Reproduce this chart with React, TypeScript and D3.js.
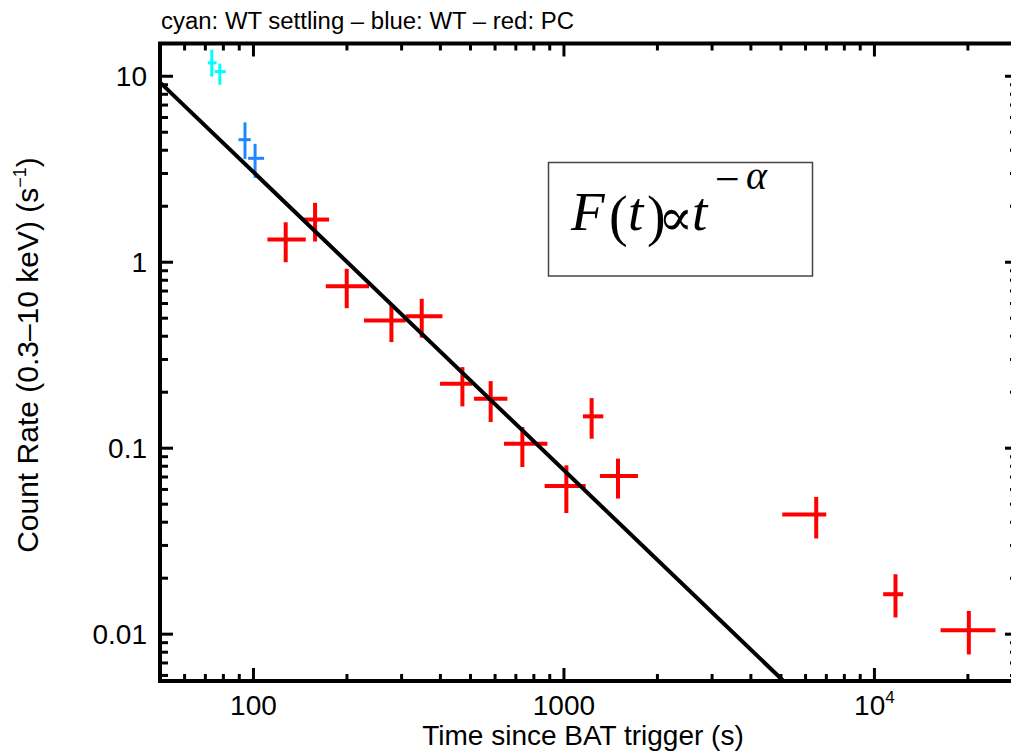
import React from 'react';
import * as d3 from 'd3';

const W = 1011;
const H = 753;

// Axis domains
const xDomain = [50, 29000];
const yDomain = [0.0056, 15];

// Major tick labels
const xMajorTicks = [100, 1000, 10000];
const xMajorLabels = ['100', '1000', '10^4'];
const yMajorTicks = [10, 1, 0.1, 0.01];
const yMajorLabels = ['10', '1', '0.1', '0.01'];

// cyan: WT settling
const cyanTime = [73.4, 77.9];
const cyanTimeLo = [71.3, 75.0];
const cyanTimeHi = [76.1, 81.4];
const cyanRate = [11.8, 10.6];
const cyanRateLo = [9.95, 9.0];
const cyanRateHi = [13.9, 11.7];

// blue: WT
const blueTime = [93.9, 101.2];
const blueTimeLo = [89.5, 96.1];
const blueTimeHi = [98.0, 108.2];
const blueRate = [4.56, 3.62];
const blueRateLo = [3.59, 2.84];
const blueRateHi = [5.65, 4.33];

// red: PC
const redTime = [127.0, 157.9, 199.7, 278.2, 348.3, 470.9, 580.8, 734.6, 1018, 1228, 1493, 6494, 11690, 20140];
const redTimeLo = [110.9, 143.8, 171.0, 227.0, 309.3, 399.0, 513.2, 641.0, 866.8, 1151, 1306, 5049, 10670, 16330];
const redTimeHi = [147.4, 175.2, 235.6, 309.3, 406.1, 507.2, 657.5, 884.5, 1175, 1339, 1731, 6995, 12380, 24540];
const redRate = [1.324, 1.696, 0.743, 0.486, 0.513, 0.2222, 0.1846, 0.1058, 0.0626, 0.1483, 0.0709, 0.044, 0.0164, 0.01051];
const redRateLo = [1.0, 1.292, 0.566, 0.372, 0.393, 0.1678, 0.1382, 0.0792, 0.0448, 0.1125, 0.0536, 0.0327, 0.0123, 0.00778];
const redRateHi = [1.64, 2.085, 0.922, 0.585, 0.636, 0.2729, 0.2295, 0.1299, 0.0809, 0.1859, 0.0879, 0.0547, 0.021, 0.01334];

// power-law fit line (two end points)
const fitTime = [50, 5094];
const fitRate = [9.27, 0.0056];

const PL = 160, PT = 43.5, PR = 1018, PB = 681;

const x = d3.scaleLog().domain(xDomain).range([PL, PR]);
const y = d3.scaleLog().domain(yDomain).range([PB, PT]);

const isMajor = (v: number) => Math.abs(Math.log10(v) - Math.round(Math.log10(v))) < 1e-9;

type Series = { t: number[]; tl: number[]; th: number[]; r: number[]; rl: number[]; rh: number[]; color: string; sw: number };

const series: Series[] = [
  { t: cyanTime, tl: cyanTimeLo, th: cyanTimeHi, r: cyanRate, rl: cyanRateLo, rh: cyanRateHi, color: '#00ffff', sw: 3 },
  { t: blueTime, tl: blueTimeLo, th: blueTimeHi, r: blueRate, rl: blueRateLo, rh: blueRateHi, color: '#1e88ff', sw: 3 },
  { t: redTime, tl: redTimeLo, th: redTimeHi, r: redRate, rl: redRateLo, rh: redRateHi, color: '#ff0000', sw: 4 },
];

export default function App() {
  const xt = x.ticks().filter((v) => v >= xDomain[0] && v <= xDomain[1]);
  const yt = y.ticks().filter((v) => v >= yDomain[0] && v <= yDomain[1]);
  const line = d3.line<number>().x((_, i) => x(fitTime[i])).y((_, i) => y(fitRate[i]));
  const sans = 'Liberation Sans, Arial, Helvetica, sans-serif';
  const serif = 'Liberation Serif, Times New Roman, serif';
  return (
    <svg width={W} height={H} style={{ position: 'absolute', left: 0, top: 0, background: '#fff' }}>
      <rect x={0} y={0} width={W} height={H} fill="#fff" />
      <text x={161} y={29} fontFamily={sans} fontSize={23} fill="#000" textLength={413} lengthAdjust="spacingAndGlyphs">
        cyan: WT settling – blue: WT – red: PC
      </text>

      {/* data */}
      {series.map((s, si) => (
        <g key={si} stroke={s.color} strokeWidth={s.sw}>
          {s.t.map((t, i) => (
            <g key={i}>
              <line x1={x(s.tl[i])} x2={x(s.th[i])} y1={y(s.r[i])} y2={y(s.r[i])} />
              <line x1={x(t)} x2={x(t)} y1={y(s.rl[i])} y2={y(s.rh[i])} />
            </g>
          ))}
        </g>
      ))}

      {/* fit line */}
      <path d={line(fitTime) || ''} stroke="#000" strokeWidth={4} fill="none" />

      {/* ticks */}
      <g stroke="#000" strokeWidth={3}>
        {xt.map((v, i) => {
          const len = isMajor(v) ? 13 : 7;
          return (
            <g key={'x' + i}>
              <line x1={x(v)} x2={x(v)} y1={PB} y2={PB - len} />
              <line x1={x(v)} x2={x(v)} y1={PT} y2={PT + len} />
            </g>
          );
        })}
        {yt.map((v, i) => {
          const len = isMajor(v) ? 13 : 8;
          return (
            <g key={'y' + i}>
              <line x1={PL} x2={PL + len} y1={y(v)} y2={y(v)} />
              <line x1={PR} x2={PR - len} y1={y(v)} y2={y(v)} />
            </g>
          );
        })}
      </g>

      {/* frame */}
      <rect x={PL} y={PT} width={PR - PL} height={PB - PT} fill="none" stroke="#000" strokeWidth={4} />

      {/* x tick labels */}
      {xMajorTicks.map((v, i) => {
        const lab = xMajorLabels[i];
        if (lab.includes('^')) {
          const [b, e] = lab.split('^');
          return (
            <text key={i} x={x(v)} y={715} textAnchor="middle" fontFamily={sans} fontSize={28}>
              {b}
              <tspan fontSize={17} dy={-12}>{e}</tspan>
            </text>
          );
        }
        return (
          <text key={i} x={x(v)} y={715} textAnchor="middle" fontFamily={sans} fontSize={28}>
            {lab}
          </text>
        );
      })}

      {/* y tick labels */}
      {yMajorTicks.map((v, i) => (
        <text key={i} x={147} y={y(v) + 10} textAnchor="end" fontFamily={sans} fontSize={28}>
          {yMajorLabels[i]}
        </text>
      ))}

      {/* axis titles */}
      <text x={583} y={745} textAnchor="middle" fontFamily={sans} fontSize={28}>
        Time since BAT trigger (s)
      </text>
      <text transform="translate(38,355) rotate(-90)" textAnchor="middle" fontFamily={sans} fontSize={30}>
        Count Rate (0.3–10 keV) (s
        <tspan fontSize={18} dy={-12}>−1</tspan>
        <tspan dy={12}>)</tspan>
      </text>

      {/* formula box */}
      <rect x={548.5} y={162.5} width={264} height={113.5} fill="#fff" stroke="#444" strokeWidth={1.5} />
      <text fontFamily={serif} fill="#000">
        <tspan x={571} y={230} fontSize={55} fontStyle="italic">F</tspan>
        <tspan x={609} y={235} fontSize={56}>(</tspan>
        <tspan x={628} y={230} fontSize={55} fontStyle="italic">t</tspan>
        <tspan x={647} y={235} fontSize={56} letterSpacing={-9}>)</tspan>
        <tspan x={658} y={235} fontSize={52} fontFamily="DejaVu Serif" letterSpacing={-14}>∝</tspan>
        <tspan x={692} y={230} fontSize={55} fontStyle="italic">t</tspan>
        <tspan x={715} y={194} fontSize={44}>−</tspan>
        <tspan x={746} y={189} fontSize={40} fontStyle="italic">α</tspan>
      </text>
    </svg>
  );
}
